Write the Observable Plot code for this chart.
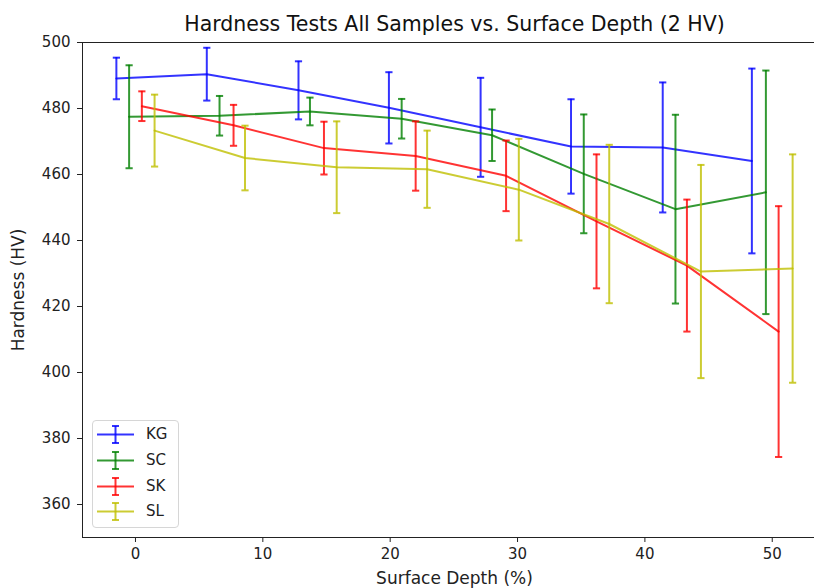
<!DOCTYPE html>
<html>
<head>
<meta charset="utf-8">
<script src="https://cdn.jsdelivr.net/npm/d3@7"></script>
<script src="https://cdn.jsdelivr.net/npm/@observablehq/plot@0.6"></script>
<style>
  body { margin: 0; background: white; font-family: "DejaVu Sans", sans-serif; }
  #wrap { position: relative; width: 814px; height: 588px; overflow: hidden; }
  #wrap svg { overflow: hidden; }
  #legend { position: absolute; left: 92px; top: 420px; width: 87px; height: 108px;
            border: 1px solid #d6d6d6; border-radius: 4px; background: rgba(255,255,255,0.8);
            box-sizing: border-box; }
  #legend .row { position: absolute; left: 0; height: 26px; width: 85px; }
  #legend .row svg { position: absolute; left: 3px; top: 0; }
  #legend .row span { position: absolute; left: 53px; top: 3px; font-size: 15px; color: #222; }
</style>
</head>
<body>
<div id="wrap"></div>
<script>
const seriesNames = ["KG", "SC", "SK", "SL"];
const seriesColors = ["#0000ff", "#008000", "#ff0000", "#bfbf00"];

const kgX = [-1.5, 5.6, 12.8, 19.9, 27.1, 34.2, 41.4, 48.4];
const kgY = [489.1, 490.4, 485.5, 480.2, 474.3, 468.5, 468.2, 464.1];
const kgErr = [6.3, 8.0, 8.8, 10.8, 15.0, 14.3, 19.7, 28.0];

const scX = [-0.5, 6.6, 13.7, 20.9, 28.0, 35.2, 42.4, 49.5];
const scY = [477.5, 477.8, 479.1, 476.9, 471.9, 460.2, 449.5, 454.6];
const scErr = [15.6, 6.0, 4.2, 6.0, 7.8, 18.0, 28.6, 36.9];

const skX = [0.5, 7.7, 14.8, 22.0, 29.1, 36.2, 43.3, 50.5];
const skY = [480.7, 474.9, 468.0, 465.6, 459.6, 445.8, 432.4, 412.4];
const skErr = [4.5, 6.2, 8.0, 10.5, 10.7, 20.3, 20.0, 38.0];

const slX = [1.5, 8.6, 15.8, 22.9, 30.1, 37.2, 44.4, 51.6];
const slY = [473.3, 465.0, 462.2, 461.6, 455.4, 445.0, 430.6, 431.5];
const slErr = [10.9, 9.8, 13.9, 11.7, 15.4, 24.0, 32.3, 34.6];

const xTicks = [0, 10, 20, 30, 40, 50];
const yTicks = [360, 380, 400, 420, 440, 460, 480, 500];

const titleText = "Hardness Tests All Samples vs. Surface Depth (2 HV)";
const xLabel = "Surface Depth (%)";
const yLabel = "Hardness (HV)";

const raw = [[kgX, kgY, kgErr], [scX, scY, scErr], [skX, skY, skErr], [slX, slY, slErr]];
const table = [];
raw.forEach(([xs, ys, es], i) => {
  xs.forEach((x, j) => table.push({series: seriesNames[i], x, y: ys[j], lo: ys[j] - es[j], hi: ys[j] + es[j]}));
});

const capSymbol = {
  draw(context, size) {
    const w = Math.sqrt(size / Math.PI);
    context.moveTo(-w, 0);
    context.lineTo(w, 0);
  }
};

const marks = [];
seriesNames.forEach((name) => {
  const d = table.filter(r => r.series === name);
  marks.push(Plot.ruleX(d, {x: "x", y1: "lo", y2: "hi", stroke: "series", strokeWidth: 2, strokeOpacity: 0.8}));
  marks.push(Plot.dot(d, {x: "x", y: "lo", symbol: capSymbol, r: 3.6, stroke: "series", strokeWidth: 2, strokeOpacity: 0.8, fill: "none"}));
  marks.push(Plot.dot(d, {x: "x", y: "hi", symbol: capSymbol, r: 3.6, stroke: "series", strokeWidth: 2, strokeOpacity: 0.8, fill: "none"}));
  marks.push(Plot.line(d, {x: "x", y: "y", stroke: "series", strokeWidth: 2, strokeOpacity: 0.8}));
});

const chart = Plot.plot({
  width: 814,
  height: 588,
  marginLeft: 82,
  marginRight: -12,
  marginTop: 42,
  marginBottom: 51,
  style: {fontFamily: "DejaVu Sans", fontSize: "15px", color: "#222", background: "white", overflow: "hidden"},
  x: {domain: [-4.16, 54.26], ticks: xTicks},
  y: {domain: [350, 500], ticks: yTicks},
  color: {domain: seriesNames, range: seriesColors},
  marks: [
    ...marks,
    Plot.frame({stroke: "#222", strokeWidth: 1}),
    Plot.axisX({ticks: xTicks, tickSize: 5, tickPadding: 6, fontSize: 15, label: null}),
    Plot.axisY({ticks: yTicks, tickSize: 5, tickPadding: 7, fontSize: 15, label: null}),
    Plot.text([titleText], {text: d => d, frameAnchor: "top", lineAnchor: "middle", dy: -18, fontSize: 20.5, fill: "#111"}),
    Plot.text([xLabel], {text: d => d, frameAnchor: "bottom", lineAnchor: "middle", dy: 41, fontSize: 17, fill: "#222"}),
    Plot.text([yLabel], {text: d => d, frameAnchor: "left", textAnchor: "middle", lineAnchor: "middle", dx: -64, rotate: -90, fontSize: 17, fill: "#222"})
  ]
});

const wrap = document.getElementById("wrap");
wrap.appendChild(chart);

const legend = document.createElement("div");
legend.id = "legend";
seriesNames.forEach((name, i) => {
  const row = document.createElement("div");
  row.className = "row";
  row.style.top = (1 + i * 25.8) + "px";
  const c = seriesColors[i];
  row.innerHTML = `<svg width="42" height="26"><g stroke="${c}" stroke-opacity="0.8" stroke-width="2" fill="none">
    <line x1="1" y1="12.5" x2="38" y2="12.5"/>
    <line x1="19.5" y1="4" x2="19.5" y2="21"/>
    <line x1="16" y1="4" x2="23" y2="4"/>
    <line x1="16" y1="21" x2="23" y2="21"/></g></svg><span>${name}</span>`;
  legend.appendChild(row);
});
wrap.appendChild(legend);
</script>
</body>
</html>
